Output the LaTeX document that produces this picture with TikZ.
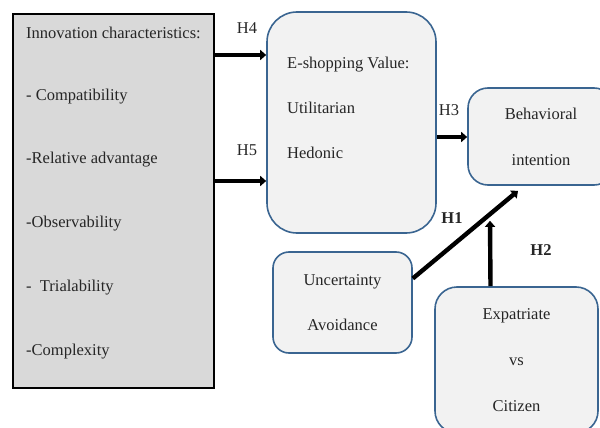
\documentclass[tikz,border=0pt]{standalone}
\usepackage{fontspec}
\setmainfont{Liberation Serif}
\usepackage{xcolor}
\definecolor{boxgray}{HTML}{D9D9D9}
\definecolor{softfill}{HTML}{F2F2F2}
\definecolor{edgeblue}{HTML}{3A6591}
\usepackage{tikz}
\usetikzlibrary{arrows.meta, positioning}

\begin{document}
\begin{tikzpicture}[
  x=1pt, y=-1pt,
  font=\fontsize{16.5}{20}\selectfont,
  ibox/.style={draw=black, fill=boxgray, line width=2.4pt,
               minimum width=201pt, minimum height=374pt},
  vbox/.style={draw=edgeblue, fill=softfill, line width=1.6pt,
               align=center, inner sep=0pt, text=black!85},
  item/.style={anchor=west, inner sep=0pt, text=black!85},
  lbl/.style={inner sep=0pt, text=black!85},
  arrow/.style={-{Triangle[length=6pt, width=10pt]}, line width=4.4pt}
]
\useasboundingbox (0,0) rectangle (600,428);
\clip (0,0) rectangle (600,428);

% innovation block
\node[ibox] (innov) at (113.5,201) {};
\foreach \y/\t [count=\i] in {33/Innovation characteristics:, 97/- Compatibility,
    160/-Relative advantage, 224/-Observability, 288/-\ \ Trialability, 352/-Complexity}
  \node[item] (item\i) at (26,\y) {\t};

% value block
\node[vbox, rounded corners=30pt, minimum width=169pt, minimum height=221pt] (eshop) at (351.5,122.5) {};
\node[item, align=left, anchor=north west] (evalue) at (287,57)
  {E-shopping Value:\\[25pt]Utilitarian\\[25pt]Hedonic};

\node[vbox, rounded corners=20pt, minimum width=146pt, minimum height=97pt] (behav) at (541,136.5)
  {Behavioral\\[26pt]intention};

\node[vbox, rounded corners=16pt, minimum width=139pt, minimum height=101pt] (uncert) at (342.5,302.5)
  {Uncertainty\\[25pt]Avoidance};

\node[vbox, rounded corners=22pt, minimum width=163pt, minimum height=146pt] (expat) at (516.5,360)
  {Expatriate\\[26pt]vs\\[26pt]Citizen};

% hypotheses
\draw[arrow] (innov.east |- 0,55) -- (eshop.west |- 0,55);
\draw[arrow] (innov.east |- 0,181) -- (eshop.west |- 0,181);
\draw[arrow] (eshop.east |- 0,137) -- (behav.west |- 0,137);
\draw[arrow] ([yshift=24pt]uncert.east) -- ([xshift=-23pt,yshift=-5pt]behav.south);
\draw[arrow] ([xshift=-26pt]expat.north) -- ([xshift=-51pt,yshift=-35pt]behav.south);

\node[lbl] (h4) at (247,28) {H4};
\node[lbl] (h5) at (247,150) {H5};
\node[lbl] (h3) at (449,110) {H3};
\node[lbl, font=\fontsize{16.5}{20}\selectfont\bfseries] (h1) at (452,218) {H1};
\node[lbl, font=\fontsize{16.5}{20}\selectfont\bfseries] (h2) at (541,250) {H2};

\end{tikzpicture}
\end{document}
